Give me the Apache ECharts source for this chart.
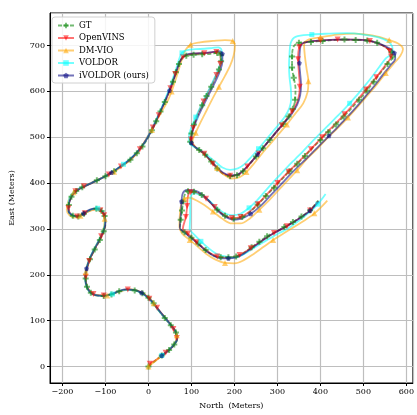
<!DOCTYPE html>
<html>
<head>
<meta charset="utf-8">
<script src="https://cdn.jsdelivr.net/npm/echarts@6/dist/echarts.min.js"></script>
<style>
  html, body { margin: 0; padding: 0; background: #fff; }
  #chart { width: 417px; height: 415px; }
</style>
</head>
<body>
<div id="chart"></div>
<script>
// Trajectories, [North, East] in meters
const seriesNames = ['GT', 'OpenVINS', 'DM-VIO', 'VOLDOR', 'iVOLDOR (ours)'];

const gtPath = [
  [0,0],[14,11],[31,24],[48,36],[60,48],[67,60],[64,74],[52,90],[38,106],[24,122],[12,138],[0,150],[-14,160],[-32,166],[-50,168],[-68,164],[-86,157],[-104,154],[-120,155],[-134,161],[-143,174],[-146,192],[-143,212],[-136,234],[-125,255],[-113,276],[-104,295],[-100,312],[-102,328],[-109,339],[-121,344],[-135,341],[-150,333],[-163,327],[-176,329],[-185,337],[-185,352],[-179,370],[-168,383],[-154,391],[-138,398],[-120,406],[-100,415],[-80,426],[-60,439],[-42,451],[-27,465],[-14,480],[-3,496],[8,515],[18,535],[28,556],[38,577],[48,599],[57,621],[64,642],[71,660],[78,672],[88,678],[105,680],[125,681],[145,682],[160,684],[168,680],[169,666],[164,648],[156,630],[146,610],[135,590],[125,570],[115,550],[106,528],[100,508],[97,490],[104,481],[118,472],[132,462],[146,447],[160,432],[174,420],[190,415],[206,417],[220,426],[234,440],[250,458],[266,476],[282,494],[298,512],[314,529],[326,545],[336,562],[341,582],[342,606],[338,630],[334,652],[334,676],[338,698],[350,706],[378,708],[405,710],[430,712],[456,713],[482,712],[509,711],[532,706],[552,696],[565,686],[568,676],[556,660],[540,641],[524,621],[508,602],[490,582],[472,563],[454,545],[436,528],[418,511],[400,494],[382,477],[364,459],[346,442],[328,426],[310,408],[292,390],[273,372],[254,353],[236,337],[218,326],[198,322],[178,329],[160,342],[142,360],[124,374],[106,381],[92,382],[85,376],[81,360],[78,340],[75,320],[73,302],[84,293],[100,281],[116,268],[133,254],[150,243],[168,238],[186,238],[204,240],[222,248],[240,260],[258,272],[276,284],[296,294],[316,304],[336,315],[356,327],[376,341],[395,362]
];

const openvinsPath = [
  [3,6],[20,16],[40,30],[58,46],[66,62],[58,82],[40,104],[20,128],[2,148],[-20,163],[-48,168],[-76,161],[-104,155],[-128,158],[-142,172],[-146,196],[-138,230],[-124,258],[-110,284],[-101,310],[-103,330],[-112,341],[-128,343],[-148,334],[-166,327],[-180,331],[-186,345],[-182,366],[-170,382],[-150,393],[-120,406],[-92,419],[-64,436],[-40,453],[-20,474],[-4,498],[10,521],[24,548],[38,577],[51,607],[62,638],[71,661],[80,675],[100,682],[130,683],[158,686],[168,680],[167,660],[158,636],[144,608],[128,578],[114,548],[104,520],[99,495],[108,479],[130,464],[150,442],[170,423],[190,416],[210,419],[230,436],[256,465],[282,494],[310,526],[334,556],[348,582],[352,610],[350,640],[348,670],[351,697],[364,707],[400,711],[440,713],[480,713],[515,710],[545,700],[561,688],[564,676],[552,658],[530,631],[506,604],[482,577],[456,550],[430,525],[404,500],[378,474],[352,449],[326,425],[300,400],[276,376],[254,354],[234,337],[214,326],[194,324],[174,332],[154,348],[134,366],[114,378],[98,380],[92,372],[90,350],[87,326],[80,300],[92,290],[112,271],[136,252],[160,240],[186,238],[212,243],[238,258],[264,274],[292,291],[322,306],[350,322],[376,340],[394,360]
];

const dmvioPath = [
  [0,0],[16,12],[34,26],[52,40],[63,54],[66,68],[58,84],[42,102],[26,120],[12,138],[-2,152],[-20,163],[-44,168],[-70,163],[-96,155],[-120,155],[-137,164],[-146,182],[-146,206],[-138,232],[-126,256],[-113,280],[-104,302],[-102,322],[-108,337],[-122,343],[-140,338],[-158,329],[-172,325],[-184,330],[-190,342],[-186,362],[-174,380],[-156,390],[-132,400],[-106,412],[-80,425],[-56,440],[-36,456],[-20,474],[-6,494],[8,516],[20,538],[32,558],[44,578],[54,600],[62,622],[70,646],[78,670],[86,690],[98,702],[120,707],[150,710],[178,712],[196,710],[201,698],[198,678],[190,656],[178,634],[164,610],[150,586],[136,560],[122,534],[110,510],[102,490],[110,478],[126,466],[144,450],[160,433],[176,418],[194,410],[212,413],[228,424],[244,441],[262,462],[282,484],[302,506],[322,528],[342,552],[360,574],[370,598],[372,622],[368,648],[364,676],[362,700],[370,712],[400,718],[440,724],[480,726],[520,722],[560,712],[585,702],[592,692],[586,678],[570,660],[552,640],[532,616],[510,592],[488,568],[464,543],[440,520],[416,498],[392,474],[368,452],[346,428],[324,406],[302,384],[280,362],[258,342],[236,323],[214,312],[194,312],[172,322],[150,338],[130,352],[112,362],[96,368],[84,366],[76,352],[73,330],[72,306],[78,290],[96,276],[114,262],[134,246],[156,233],[178,226],[200,225],[222,232],[244,245],[268,261],[290,276],[314,290],[338,304],[362,318],[386,334],[404,350],[416,362]
];

const voldorPath = [
  [31,24],[48,37],[60,49],[67,62],[63,76],[50,92],[36,108],[22,124],[9,140],[-4,152],[-20,162],[-40,167],[-62,166],[-84,158],[-106,154],[-124,156],[-138,164],[-146,180],[-147,200],[-142,222],[-133,244],[-121,266],[-109,288],[-102,308],[-101,326],[-106,338],[-118,345],[-134,342],[-150,334],[-165,327],[-178,330],[-186,340],[-186,358],[-180,374],[-166,386],[-148,394],[-124,404],[-100,415],[-78,428],[-58,441],[-40,455],[-24,470],[-11,486],[0,504],[11,524],[21,545],[31,566],[41,588],[50,610],[58,632],[66,654],[72,672],[78,684],[90,690],[110,692],[130,693],[150,695],[162,696],[170,690],[170,672],[164,652],[155,632],[144,610],[132,588],[121,566],[110,544],[100,522],[94,500],[96,486],[108,478],[124,470],[140,458],[156,446],[172,434],[190,429],[208,432],[224,442],[240,458],[256,475],[272,493],[288,511],[304,529],[318,546],[328,564],[332,585],[331,608],[328,632],[327,656],[328,680],[331,706],[342,719],[380,724],[420,726],[460,727],[500,724],[535,718],[556,710],[567,698],[568,686],[552,672],[536,652],[520,632],[504,613],[486,593],[468,574],[450,556],[432,539],[414,522],[396,505],[378,488],[360,470],[342,453],[324,436],[306,418],[288,400],[270,381],[252,362],[234,346],[214,333],[194,330],[174,336],[156,349],[138,364],[120,374],[106,378],[98,370],[97,350],[97,326],[96,300],[106,288],[122,273],[140,258],[158,246],[178,240],[198,238],[218,243],[238,254],[258,266],[280,278],[302,290],[326,302],[350,318],[374,336],[394,354],[412,376]
];

const ivoldorPath = [
  [31,24],[48,36],[60,48],[67,61],[64,75],[52,91],[38,107],[24,123],[11,139],[-2,151],[-16,161],[-34,167],[-52,168],[-70,164],[-88,157],[-106,154],[-122,155],[-136,162],[-144,176],[-147,194],[-144,214],[-136,236],[-125,257],[-113,278],[-104,297],[-100,314],[-102,330],[-110,340],[-122,345],[-136,342],[-151,334],[-164,328],[-177,330],[-186,339],[-185,355],[-178,372],[-166,384],[-150,392],[-130,401],[-108,411],[-86,423],[-64,437],[-44,451],[-28,466],[-14,482],[-2,499],[9,518],[19,538],[29,559],[39,580],[49,602],[58,624],[66,646],[73,664],[81,676],[94,682],[112,683],[132,684],[150,686],[164,688],[172,682],[172,666],[167,646],[158,626],[147,605],[136,585],[125,564],[114,542],[105,520],[100,500],[100,488],[110,478],[126,467],[142,452],[158,436],[173,423],[190,417],[208,419],[223,430],[238,445],[254,463],[270,481],[286,499],[302,517],[318,534],[334,552],[346,571],[353,592],[355,614],[353,638],[351,662],[352,686],[356,703],[370,708],[400,711],[440,713],[480,713],[514,710],[540,703],[560,694],[572,684],[574,672],[562,656],[545,636],[528,615],[510,595],[492,575],[474,556],[456,538],[438,520],[420,503],[402,486],[384,469],[366,452],[348,436],[330,419],[312,401],[294,383],[276,365],[257,347],[238,333],[218,323],[198,320],[178,327],[160,341],[142,360],[124,376],[106,384],[90,385],[80,378],[77,360],[76,340],[74,320],[73,302],[84,292],[100,280],[116,267],[133,253],[150,242],[168,236],[186,236],[204,238],[222,246],[240,258],[258,270],[276,282],[296,293],[316,303],[336,314],[356,326],[376,340],[396,360]
];

const xTicks = [-200, -100, 0, 100, 200, 300, 400, 500, 600];
const yTicks = [0, 100, 200, 300, 400, 500, 600, 700];

const SERIF = 'DejaVu Serif';

// marker shapes
const PLUS = 'path://M2,0H4V2H6V4H4V6H2V4H0V2H2Z';
const PENTAGON = 'path://M0,-1L0.951,-0.309L0.588,0.809L-0.588,0.809L-0.951,-0.309Z';

// put a marker roughly every `step` vertices (step may be fractional)
function marked(points, step) {
  return points.map((p, i) => {
    const hit = i === 0 || Math.floor(i / step) !== Math.floor((i - 1) / step);
    return hit ? { value: p } : { value: p, symbol: 'none' };
  });
}

function trajectory(name, points, color, symbol, symbolSize, step, extra) {
  return Object.assign({
    name: name,
    type: 'line',
    data: marked(points, step),
    smooth: 0.35,
    showSymbol: true,
    showAllSymbol: true,
    symbol: symbol,
    symbolSize: symbolSize,
    itemStyle: { color: color },
    lineStyle: { color: color, width: 1.8 },
    emphasis: { disabled: true },
    animation: false
  }, extra || {});
}

const chart = echarts.init(document.getElementById('chart'), null, { renderer: 'canvas' });

chart.setOption({
  backgroundColor: '#fff',
  animation: false,
  grid: {
    left: 48, right: 0, top: 13, bottom: 27,
    show: true, borderColor: '#000', borderWidth: 1, backgroundColor: 'transparent'
  },
  legend: {
    data: seriesNames,
    orient: 'vertical',
    left: 52, top: 17,
    itemWidth: 16, itemHeight: 7, itemGap: 3.5,
    padding: [4, 6, 3, 5],
    backgroundColor: 'rgba(255,255,255,0.85)',
    borderColor: '#d0d0d0', borderWidth: 1, borderRadius: 3,
    textStyle: { fontFamily: SERIF, fontSize: 8.5, color: '#000' }
  },
  xAxis: {
    type: 'value',
    min: -229, max: 615,
    minInterval: 100, maxInterval: 100,
    name: 'North  (Meters)',
    nameLocation: 'middle', nameGap: 19,
    nameTextStyle: { fontFamily: SERIF, fontSize: 8, color: '#000' },
    axisLine: { show: true, onZero: false, lineStyle: { color: '#000', width: 1 } },
    axisTick: { show: true, length: 3, lineStyle: { color: '#000' } },
    axisLabel: {
      fontFamily: SERIF, fontSize: 8, color: '#000', margin: 5,
      showMinLabel: false, showMaxLabel: false,
      formatter: v => xTicks.includes(v) ? String(v).replace('-', '\u2212') : ''
    },
    splitLine: { show: true, lineStyle: { color: '#bebebe', width: 1.2 } }
  },
  yAxis: {
    type: 'value',
    min: -36, max: 771,
    minInterval: 100, maxInterval: 100,
    name: 'East (Meters)',
    nameLocation: 'middle', nameGap: 34,
    nameTextStyle: { fontFamily: SERIF, fontSize: 8, color: '#000' },
    axisLine: { show: true, onZero: false, lineStyle: { color: '#000', width: 1 } },
    axisTick: { show: true, length: 3, lineStyle: { color: '#000' } },
    axisLabel: {
      fontFamily: SERIF, fontSize: 8, color: '#000', margin: 5,
      showMinLabel: false, showMaxLabel: false,
      formatter: v => yTicks.includes(v) ? String(v) : ''
    },
    splitLine: { show: true, lineStyle: { color: '#bebebe', width: 1.2 } }
  },
  series: [
    trajectory(seriesNames[0], gtPath, 'rgba(20,140,20,0.6)', PLUS, 6, 1.3,
      { lineStyle: { color: 'rgba(20,140,20,0.6)', width: 1.8, type: [4, 2] } }),
    trajectory(seriesNames[1], openvinsPath, 'rgba(255,0,0,0.55)', 'triangle', 6, 1.6,
      { symbolRotate: 180 }),
    trajectory(seriesNames[2], dmvioPath, 'rgba(255,165,0,0.55)', 'triangle', 6, 4.5),
    trajectory(seriesNames[3], voldorPath, 'rgba(0,255,255,0.55)', 'rect', 5, 13),
    trajectory(seriesNames[4], ivoldorPath, 'rgba(0,0,128,0.55)', PENTAGON, 5, 10)
  ]
});
</script>
</body>
</html>
